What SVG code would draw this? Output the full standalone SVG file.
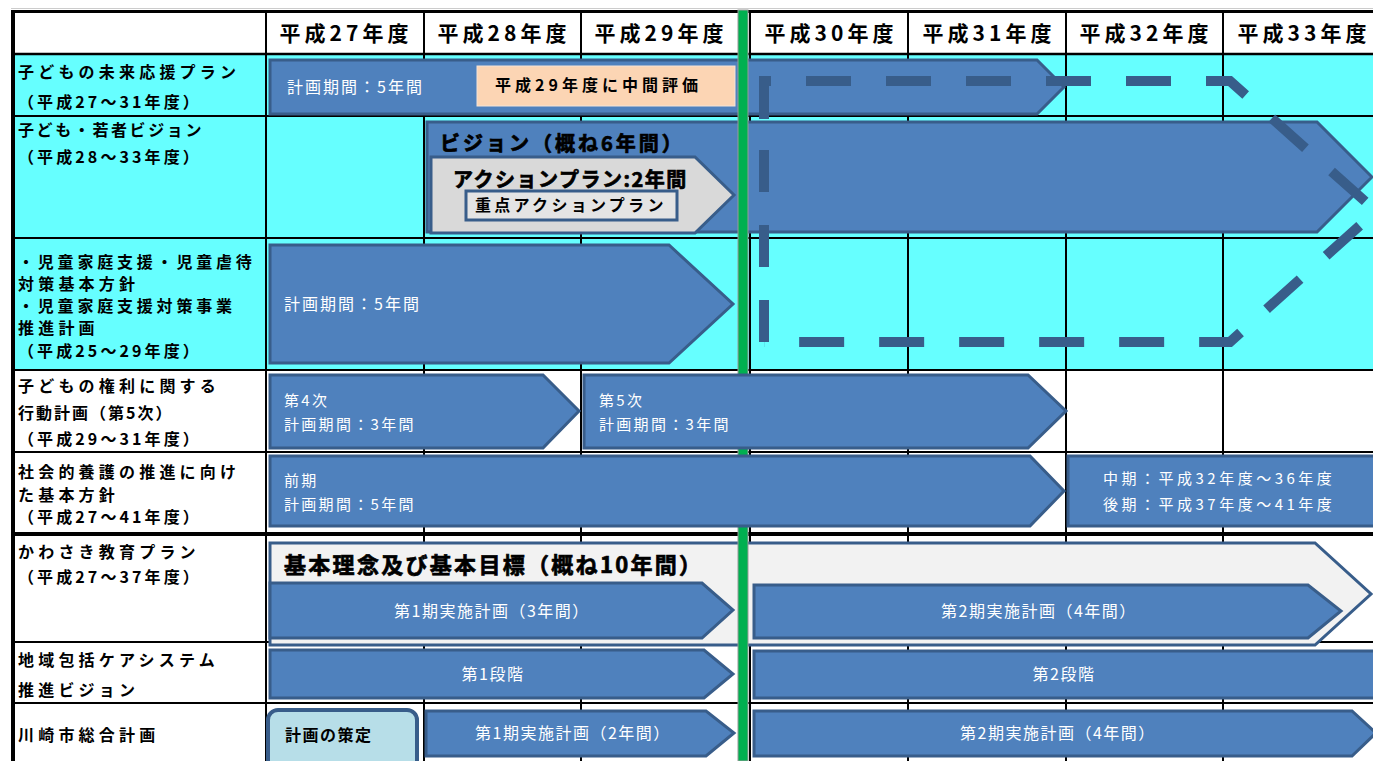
<svg xmlns="http://www.w3.org/2000/svg" width="1373" height="761" viewBox="0 0 1373 761">
<style>
text{font-family:"Noto Sans CJK JP","Noto Sans",sans-serif}
.hd{font-size:21px;font-weight:700;fill:#000;letter-spacing:4px;text-anchor:middle}
.lb{font-size:16px;font-weight:700;fill:#000;letter-spacing:4.2px}
.lp{letter-spacing:3.1px}
.wt{font-size:16px;fill:#fff;letter-spacing:2px}
.ws{font-size:15px;fill:#fff;letter-spacing:2.3px}
.wc{font-size:16px;fill:#fff;letter-spacing:1.5px;text-anchor:middle}
.bk{font-weight:700;fill:#000}
.hv{font-weight:700;fill:#000;stroke:#000;stroke-width:0.7px}
.blue{fill:#4F81BD;stroke:#385D8A;stroke-width:3}
.gl{stroke:#000;stroke-width:2}
.dash{fill:none;stroke:#385D8A;stroke-width:10;stroke-linejoin:miter}
</style>
<rect width="1373" height="761" fill="#fff"/>
<g id="grid">
<rect x="13" y="54" width="1360" height="316" fill="#66FFFF"/>
<rect x="11" y="8" width="1362" height="1" fill="#ccc"/>
<rect x="11" y="10" width="1362" height="3" fill="#000"/>
<rect x="11" y="10" width="4" height="751" fill="#000"/>
<line class="gl" x1="13" y1="54" x2="1373" y2="54" style="stroke-width:2.5"/>
<line class="gl" x1="13" y1="116" x2="1373" y2="116"/>
<line class="gl" x1="13" y1="238" x2="1373" y2="238"/>
<line class="gl" x1="13" y1="370" x2="1373" y2="370"/>
<line class="gl" x1="13" y1="452" x2="1373" y2="452"/>
<line class="gl" x1="13" y1="534" x2="1373" y2="534" style="stroke-width:4"/>
<line class="gl" x1="13" y1="642" x2="1373" y2="642"/>
<line class="gl" x1="13" y1="703" x2="1373" y2="703"/>
<line class="gl" x1="266" y1="12" x2="266" y2="761"/>
<line class="gl" x1="424" y1="12" x2="424" y2="761"/>
<line class="gl" x1="581" y1="12" x2="581" y2="761"/>
<line class="gl" x1="750" y1="12" x2="750" y2="761"/>
<line class="gl" x1="908" y1="12" x2="908" y2="761"/>
<line class="gl" x1="1066" y1="12" x2="1066" y2="761"/>
<line class="gl" x1="1223" y1="12" x2="1223" y2="761"/>
</g>
<g id="header">
<text class="hd" x="346" y="41">平成27年度</text>
<text class="hd" x="504" y="41">平成28年度</text>
<text class="hd" x="661" y="41">平成29年度</text>
<text class="hd" x="831" y="41">平成30年度</text>
<text class="hd" x="989" y="41">平成31年度</text>
<text class="hd" x="1146" y="41">平成32年度</text>
<text class="hd" x="1304" y="41">平成33年度</text>
</g>
<g id="labels">
<text class="lb" x="18" y="78">子どもの未来応援プラン</text>
<text class="lb lp" x="18" y="108">（平成27～31年度）</text>
<text class="lb" x="18" y="136" style="letter-spacing:2.6px">子ども・若者ビジョン</text>
<text class="lb lp" x="18" y="163">（平成28～33年度）</text>
<text class="lb" x="18" y="268" style="letter-spacing:3.8px">・児童家庭支援・児童虐待</text>
<text class="lb" x="18" y="290">対策基本方針</text>
<text class="lb" x="18" y="312" style="letter-spacing:3.8px">・児童家庭支援対策事業</text>
<text class="lb" x="18" y="334">推進計画</text>
<text class="lb lp" x="18" y="357">（平成25～29年度）</text>
<text class="lb" x="18" y="392">子どもの権利に関する</text>
<text class="lb" x="18" y="419" style="letter-spacing:2px">行動計画（第5次）</text>
<text class="lb lp" x="18" y="445">（平成29～31年度）</text>
<text class="lb" x="18" y="478">社会的養護の推進に向け</text>
<text class="lb" x="18" y="501">た基本方針</text>
<text class="lb lp" x="18" y="523">（平成27～41年度）</text>
<text class="lb" x="18" y="558">かわさき教育プラン</text>
<text class="lb lp" x="18" y="583">（平成27～37年度）</text>
<text class="lb" x="18" y="666">地域包括ケアシステム</text>
<text class="lb" x="18" y="696">推進ビジョン</text>
<text class="lb" x="18" y="741">川崎市総合計画</text>
</g>
<g id="mirai-plan">
<path class="blue" d="M270,60 H1037 L1064,87 L1037,114 H270 Z"/>
<text class="wt" x="287" y="93">計画期間：5年間</text>
</g>
<g id="chukan-hyoka">
<rect x="477" y="66" width="258" height="40" fill="#FCD5B4" stroke="#F4E4D8" stroke-width="1"/>
<text class="bk" x="495" y="91" style="font-size:16px;letter-spacing:4px">平成29年度に中間評価</text>
</g>
<g id="vision">
<path class="blue" d="M427,122 H1317 L1372,177 L1317,232 H427 Z"/>
<text class="hv" x="440" y="151" style="font-size:20px;letter-spacing:3px">ビジョン（概ね6年間）</text>
</g>
<g id="action-plan">
<path d="M431,157 H695 L734,195 L695,233 H431 Z" fill="#D9D9D9" stroke="#385D8A" stroke-width="3"/>
<text class="hv" x="453" y="187" style="font-size:20px;letter-spacing:1.5px">アクションプラン:2年間</text>
</g>
<g id="juten-action">
<rect x="466" y="191" width="211" height="29" fill="#E4E4E4" stroke="#385D8A" stroke-width="3"/>
<text class="bk" x="475" y="211" style="font-size:16px;letter-spacing:3.3px">重点アクションプラン</text>
</g>
<g id="jido-katei">
<path class="blue" d="M270,245 H669 L733,304 L669,363 H270 Z"/>
<text class="wt" x="284" y="310">計画期間：5年間</text>
</g>
<g id="next-plan-dashed">
<path class="dash" d="M764,119 V81 H1230 L1376,211" stroke-dasharray="45 35"/>
<path class="dash" d="M1376,211 L1230,342 H764" stroke-dasharray="45 35" stroke-dashoffset="58"/>
<path class="dash" d="M764,342 V119" stroke-dasharray="42 33"/>
</g>
<g id="kyoiku-kihon">
<path d="M270,543 H1315 L1371,594 L1315,645 H270 Z" fill="#F2F2F2" stroke="#385D8A" stroke-width="3"/>
<text class="hv" x="284" y="573" style="font-size:22px;letter-spacing:2.3px">基本理念及び基本目標（概ね10年間）</text>
</g>
<g id="kyoiku-1">
<path class="blue" d="M270,583 H702 L733,610 L702,638 H270 Z"/>
<text class="wc" x="492" y="617">第1期実施計画（3年間）</text>
</g>
<g id="kyoiku-2">
<path class="blue" d="M754,585 H1308 L1341,611 L1308,638 H754 Z"/>
<text class="wc" x="1039" y="617">第2期実施計画（4年間）</text>
</g>
<g id="care-1">
<path class="blue" d="M270,650 H704 L733,674 L704,698 H270 Z"/>
<text class="wc" x="493" y="680">第1段階</text>
</g>
<g id="care-2">
<rect class="blue" x="754" y="651" width="630" height="47"/>
<text class="wc" x="1064" y="680">第2段階</text>
</g>
<g id="sakutei">
<rect x="268" y="710" width="149" height="60" rx="10" fill="#B7DEE8" stroke="#385D8A" stroke-width="4"/>
<text class="bk" x="285" y="741" style="font-size:16px;letter-spacing:1.5px">計画の策定</text>
</g>
<g id="sogo-1">
<path class="blue" d="M426,711 H706 L734,733 L706,756 H426 Z"/>
<text class="wc" x="573" y="739">第1期実施計画（2年間）</text>
</g>
<g id="sogo-2">
<path class="blue" d="M754,711 H1352 L1376,733 L1352,756 H754 Z"/>
<text class="wc" x="1058" y="739">第2期実施計画（4年間）</text>
</g>
<g id="today-line">
<rect x="738" y="10" width="10" height="751" fill="#00B050" stroke="#9A9A9A" stroke-width="1"/>
</g>
<g id="kenri-4">
<path class="blue" d="M270,375 H543 L579,411 L543,448 H270 Z"/>
<text class="ws" x="284" y="406">第4次</text>
<text class="ws" x="284" y="430">計画期間：3年間</text>
</g>
<g id="kenri-5">
<path class="blue" d="M584,375 H1028 L1066,411 L1028,448 H584 Z"/>
<text class="ws" x="599" y="406">第5次</text>
<text class="ws" x="599" y="430">計画期間：3年間</text>
</g>
<g id="yogo-zenki">
<path class="blue" d="M270,456 H1030 L1064,491 L1030,526 H270 Z"/>
<text class="ws" x="284" y="486">前期</text>
<text class="ws" x="284" y="510">計画期間：5年間</text>
</g>
<g id="yogo-chuki">
<rect class="blue" x="1068" y="456" width="320" height="70"/>
<text class="ws" x="1103" y="484" style="letter-spacing:3.5px">中期：平成32年度～36年度</text>
<text class="ws" x="1103" y="510" style="letter-spacing:3.5px">後期：平成37年度～41年度</text>
</g>
</svg>
